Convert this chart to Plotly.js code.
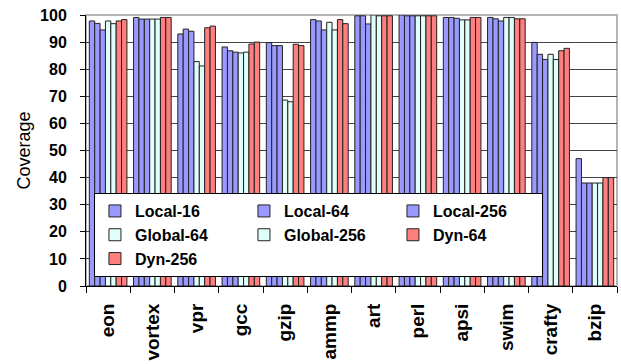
<!DOCTYPE html>
<html>
<head>
<meta charset="utf-8">
<script src="https://cdn.plot.ly/plotly-3.0.1.min.js"></script>
<style>
  html, body { margin: 0; padding: 0; background: #fff; }
  #chart { width: 621px; height: 364px; }
</style>
</head>
<body>
<div id="chart"></div>
<script>
// Benchmarks on the x axis
const categories = ['eon', 'vortex', 'vpr', 'gcc', 'gzip', 'ammp', 'art', 'perl', 'apsi', 'swim', 'crafty', 'bzip'];

// Coverage (%) per predictor configuration
const local16   = [97.8, 99.1, 93.0, 88.2, 89.8, 98.3, 99.7, 100.0, 99.1, 99.1, 89.9, 47.0];
const local64   = [96.9, 98.5, 94.8, 86.8, 88.7, 97.8, 99.7, 99.7, 99.1, 98.6, 85.5, 38.0];
const local256  = [94.5, 98.5, 94.0, 86.3, 88.7, 94.5, 96.7, 99.7, 98.8, 97.8, 83.6, 38.0];
const global64  = [97.8, 98.5, 82.8, 86.0, 68.6, 97.3, 100.0, 99.7, 98.2, 99.1, 85.5, 38.0];
const global256 = [96.8, 98.5, 81.2, 86.3, 68.0, 94.5, 99.7, 99.7, 98.2, 99.1, 83.6, 38.0];
const dyn64     = [97.8, 99.1, 95.3, 89.3, 89.2, 98.3, 99.7, 99.7, 99.1, 98.6, 86.8, 40.0];
const dyn256    = [98.3, 99.1, 95.9, 90.0, 88.7, 96.8, 99.7, 99.7, 99.1, 98.6, 87.7, 40.0];

const seriesNames = ['Local-16', 'Local-64', 'Local-256', 'Global-64', 'Global-256', 'Dyn-64', 'Dyn-256'];
const seriesValues = [local16, local64, local256, global64, global256, dyn64, dyn256];
const seriesColors = ['#9999ff', '#9999ff', '#9999ff', '#e0fffa', '#e0fffa', '#ff7f7f', '#ff7f7f'];

const traces = seriesNames.map((name, i) => ({
  type: 'bar',
  name: name,
  x: categories,
  y: seriesValues[i],
  marker: { color: seriesColors[i], line: { color: '#222', width: 1 } },
  hoverinfo: 'x+y+name'
}));

const layout = {
  width: 621,
  height: 364,
  margin: { l: 86, r: 4, t: 15, b: 78 },
  paper_bgcolor: '#fff',
  plot_bgcolor: '#fff',
  barmode: 'group',
  bargap: 0.15,
  bargroupgap: 0,
  font: { family: 'Liberation Sans, Arial, sans-serif', color: '#000' },
  xaxis: {
    type: 'category',
    tickangle: -90,
    tickson: 'boundaries',
    ticks: 'outside',
    ticklen: 6,
    tickcolor: '#000',
    showline: true,
    linecolor: '#000',
    linewidth: 1,
    showgrid: false,
    ticklabelstandoff: 9,
    tickfont: { size: 19, family: 'Liberation Sans, Arial, sans-serif', weight: 'bold' }
  },
  yaxis: {
    range: [0, 100],
    tickvals: [0, 10, 20, 30, 40, 50, 60, 70, 80, 90, 100],
    ticks: 'outside',
    ticklen: 5,
    tickcolor: '#000',
    showline: true,
    linecolor: '#000',
    linewidth: 1,
    showgrid: true,
    gridcolor: '#444',
    gridwidth: 1,
    zeroline: false,
    ticklabelstandoff: 10,
    tickfont: { size: 16, family: 'Liberation Sans, Arial, sans-serif', weight: 'bold' },
    title: { text: 'Coverage', font: { size: 18 }, standoff: 4 }
  },
  legend: {
    orientation: 'h',
    x: 0.015,
    y: 0.343,
    xanchor: 'left',
    yanchor: 'top',
    bgcolor: '#fff',
    bordercolor: '#000',
    borderwidth: 1,
    entrywidth: 104,
    entrywidthmode: 'pixels',
    traceorder: 'normal',
    font: { size: 16, family: 'Liberation Sans, Arial, sans-serif', weight: 'bold' }
  },
  shapes: [{
    type: 'rect', xref: 'paper', yref: 'paper',
    x0: 0, x1: 1, y0: 0, y1: 1,
    line: { color: '#b5b5b5', width: 2 },
    layer: 'below'
  }]
};

Plotly.newPlot('chart', traces, layout, { displayModeBar: false, staticPlot: true });
</script>
</body>
</html>
